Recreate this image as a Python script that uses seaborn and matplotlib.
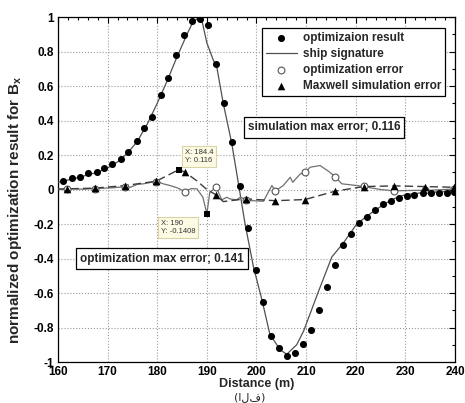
import matplotlib
matplotlib.use("Agg")
import matplotlib.pyplot as plt
from matplotlib.ticker import MultipleLocator, FuncFormatter
import seaborn as sns

# ---- data ----
res_x = [161.0, 162.8, 164.4, 166.0, 167.9, 169.3, 170.9, 172.6, 174.2, 175.9,
         177.3, 178.9, 180.8, 182.2, 183.8, 185.4, 187.0, 188.6, 190.2, 191.9,
         193.5, 195.1, 196.6, 198.2, 199.9, 201.4, 202.9, 204.6, 206.2, 207.8,
         209.4, 211.0, 212.6, 214.2, 215.8, 217.5, 219.0, 220.7, 222.3, 223.9,
         225.5, 227.1, 228.7, 230.3, 231.8, 233.5, 235.1, 236.7, 238.4, 239.8]
res_y = [0.052, 0.064, 0.075, 0.093, 0.104, 0.122, 0.145, 0.174, 0.220, 0.284,
         0.354, 0.423, 0.545, 0.649, 0.777, 0.893, 0.974, 0.986, 0.951, 0.725,
         0.499, 0.278, 0.020, -0.224, -0.466, -0.653, -0.850, -0.918, -0.966, -0.945,
         -0.893, -0.812, -0.697, -0.568, -0.437, -0.321, -0.257, -0.195, -0.157, -0.116,
         -0.083, -0.064, -0.048, -0.037, -0.031, -0.023, -0.021, -0.021, -0.019, -0.017]

ship_x = [160, 162, 164, 166, 168, 170, 172, 174, 176, 178, 180, 182, 184, 186,
          187, 188, 189, 190, 191.3, 192, 193.3, 195, 196.5, 197.7, 199.4, 201.1,
          202.7, 204.8, 206.1, 208.1, 209.5, 212.5, 215.2, 217.5, 220.2, 223.4,
          226, 228, 230, 233, 236, 240]
ship_y = [0.042, 0.055, 0.068, 0.085, 0.100, 0.125, 0.160, 0.210, 0.280, 0.380,
          0.500, 0.630, 0.770, 0.900, 0.960, 0.990, 0.980, 0.850, 0.750, 0.710,
          0.500, 0.270, 0.010, -0.200, -0.450, -0.640, -0.840, -0.930, -0.955,
          -0.900, -0.820, -0.590, -0.390, -0.310, -0.200, -0.130, -0.080, -0.050,
          -0.030, -0.020, -0.015, -0.010]

operr_x = [160, 162, 165, 168, 171, 173, 174.6, 176, 177.2, 178.5, 179.8, 181.2,
           182.6, 184, 185.6, 186.8, 188, 189.2, 190, 190.6, 191.9, 193, 194, 194.7,
           196, 196.7, 198.7, 201.4, 203.1, 203.8, 205.4, 206.8, 207.3, 208.8, 209.8,
           210.8, 212.8, 214.5, 215.8, 217.2, 220.2, 222, 225, 227.8, 230, 235, 240]
operr_y = [0.000, 0.004, 0.002, 0.006, 0.010, 0.015, 0.013, 0.030, 0.033, 0.040,
           0.048, 0.033, 0.023, 0.010, -0.012, 0.005, 0.004, -0.045, -0.1408, -0.015,
           0.012, -0.060, -0.045, -0.055, -0.060, -0.045, -0.064, -0.068, 0.023, -0.008,
           0.023, 0.071, 0.042, 0.090, 0.100, 0.129, 0.139, 0.106, 0.075, 0.033,
           0.023, 0.015, 0.000, -0.008, -0.006, -0.004, 0.003]

mark_x = [161.8, 167.5, 173.5, 179.8, 185.6, 191.9, 197.8, 203.8, 209.8, 215.8,
          221.6, 227.8, 234.0, 239.8]
operr_mark_y = [0.003, 0.005, 0.014, 0.045, -0.012, 0.012, -0.058, -0.008, 0.100,
                0.075, 0.018, -0.008, -0.005, 0.002]

maxw_x = [160, 161.8, 167.5, 173.5, 179.8, 184.4, 185.6, 188, 190, 191.8, 193.3,
          197.8, 203.8, 209.8, 215.8, 221.6, 227.8, 234.0, 239.8]
maxw_y = [0.003, 0.004, 0.008, 0.023, 0.048, 0.116, 0.100, 0.050, 0.000, -0.030,
          -0.070, -0.054, -0.065, -0.058, -0.010, 0.017, 0.021, 0.017, 0.013]
maxw_mark_y = [0.004, 0.008, 0.023, 0.048, 0.100, -0.030, -0.054, -0.065, -0.058,
               -0.010, 0.017, 0.021, 0.017, 0.013]

tip_x = [184.4, 190]
tip_y = [0.116, -0.1408]

legend_labels = ["optimizaion result", "ship signature", "optimization error",
                 "Maxwell simulation error"]
x_ticks = [160, 170, 180, 190, 200, 210, 220, 230, 240]
y_ticks = [-1, -0.8, -0.6, -0.4, -0.2, 0, 0.2, 0.4, 0.6, 0.8, 1]

# ---- style ----
sns.set_style("white")
plt.rcParams['font.family'] = ['Liberation Sans', 'DejaVu Sans']
plt.rcParams['font.weight'] = 'bold'
plt.rcParams['axes.labelweight'] = 'bold'
plt.rcParams['mathtext.fontset'] = 'custom'
plt.rcParams['mathtext.rm'] = 'Liberation Sans:bold'
plt.rcParams['mathtext.bf'] = 'Liberation Sans:bold'
plt.rcParams['mathtext.it'] = 'Liberation Sans:bold'

fig = plt.figure(figsize=(4.65, 4.03), dpi=100)
ax = fig.add_axes([0.1247, 0.1017, 0.8538, 0.8561])

# lines
sns.lineplot(x=ship_x, y=ship_y, ax=ax, color='#505050', lw=0.9, sort=False,
             estimator=None, label=legend_labels[1], zorder=3)
sns.lineplot(x=operr_x, y=operr_y, ax=ax, color='#707070', lw=0.9, sort=False,
             estimator=None, zorder=3)
sns.lineplot(x=maxw_x, y=maxw_y, ax=ax, color='#3c3c3c', lw=1.0, sort=False,
             estimator=None, zorder=3, linestyle=(0, (6, 3)))

# markers
sns.scatterplot(x=res_x, y=res_y, ax=ax, color='black', s=26, marker='o',
                linewidth=0, label=legend_labels[0], zorder=5)
sns.scatterplot(x=mark_x, y=operr_mark_y, ax=ax, color='white', edgecolor='#555555',
                s=24, marker='o', linewidth=0.8, label=legend_labels[2], zorder=4)
sns.scatterplot(x=mark_x, y=maxw_mark_y, ax=ax, color='black', s=30, marker='^',
                linewidth=0, label=legend_labels[3], zorder=6)
sns.scatterplot(x=tip_x, y=tip_y, ax=ax, color='black', s=24, marker='s',
                linewidth=0, zorder=6)

# axes
ax.set_xlim(160, 240)
ax.set_ylim(-1, 1)
ax.set_xticks(x_ticks)
ax.set_yticks(y_ticks)
ax.xaxis.set_minor_locator(MultipleLocator(2))
ax.yaxis.set_minor_locator(MultipleLocator(0.1))
ax.yaxis.set_major_formatter(FuncFormatter(lambda v, p: '%g' % round(v, 2)))
ax.xaxis.set_major_formatter(FuncFormatter(lambda v, p: '%g' % v))
ax.tick_params(which='both', direction='in', top=True, right=True,
               labelsize=8.5, width=0.8, colors='black', pad=3)
ax.tick_params(which='major', length=4)
ax.tick_params(which='minor', length=2)
for t in ax.get_xticklabels() + ax.get_yticklabels():
    t.set_fontweight('bold')
ax.grid(True, which='major', linestyle=':', color='#9a9a9a', linewidth=0.8)
for s in ax.spines.values():
    s.set_color('black')
    s.set_linewidth(0.9)

ax.set_xlabel("Distance (m)", fontsize=9, fontweight='bold', labelpad=0)
ax.set_ylabel(r"normalized optimization result for B$_{\mathbf{x}}$", fontsize=11,
              fontweight='bold')
ax.yaxis.set_label_coords(-0.085, 0.44)

# legend
h, l = ax.get_legend_handles_labels()
hd = dict(zip(l, h))
leg = ax.legend([hd[k] for k in legend_labels], legend_labels, loc='upper right',
                bbox_to_anchor=(0.99, 0.985), fontsize=8.5, frameon=True,
                fancybox=False, framealpha=1, edgecolor='black', handlelength=2.6,
                borderpad=0.35, labelspacing=0.33, handletextpad=0.5)
leg.get_frame().set_linewidth(0.9)
for t in leg.get_texts():
    t.set_fontweight('bold')

# annotation boxes
box = dict(boxstyle='square,pad=0.35', fc='white', ec='black', lw=0.9)
ax.text(213.6, 0.36, "simulation max error; 0.116", ha='center', va='center',
        fontsize=8.5, fontweight='bold', bbox=box, zorder=8)
ax.text(181.0, -0.40, "optimization max error; 0.141", ha='center', va='center',
        fontsize=8.5, fontweight='bold', bbox=box, zorder=8)

tipbox = dict(boxstyle='square,pad=0.35', fc='#fdfbe3', ec='#d9d3a6', lw=0.8)
ax.text(185.6, 0.235, "X: 184.4\nY: 0.116", ha='left', va='top', fontsize=5.5,
        fontweight='normal', color='#333333', bbox=tipbox, zorder=8, linespacing=1.3)
ax.text(180.7, -0.175, "X: 190\nY: -0.1408", ha='left', va='top', fontsize=5.5,
        fontweight='normal', color='#333333', bbox=tipbox, zorder=8, linespacing=1.3)

fig.text(0.537, 0.003, "(الف)", ha='center', va='bottom', fontsize=8,
         family=['DejaVu Sans'], fontweight='normal')

fig.savefig("out.png", dpi=100)
